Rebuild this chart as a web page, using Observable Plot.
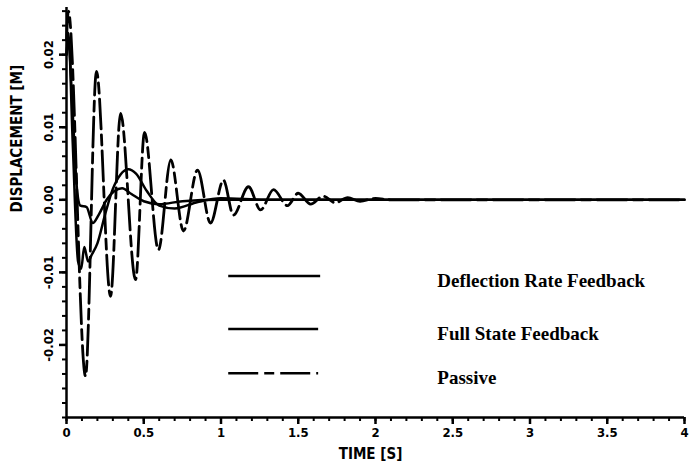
<!DOCTYPE html>
<html><head><meta charset="utf-8">
<script src="https://cdn.jsdelivr.net/npm/d3@7"></script>
<script src="https://cdn.jsdelivr.net/npm/@observablehq/plot@0.6"></script>
<style>body{margin:0;background:#fff}</style>
</head><body><div id="chart"></div>
<script>
// ---- data ----
const seriesNames = ["Deflection Rate Feedback", "Full State Feedback", "Passive"];

const drfTime = [0, 0.012, 0.04, 0.075, 0.095, 0.115, 0.14, 0.165, 0.2, 0.25, 0.3, 0.35, 0.4, 0.45, 0.52, 0.6, 0.7, 0.85, 1.0, 1.3, 4];
const drfDisp = [0.02, 0.023, 0.008, -0.0085, -0.0095, -0.0065, -0.0085, -0.0075, -0.006, -0.002, 0.0015, 0.0035, 0.0042, 0.0036, 0.0012, -0.0008, -0.0012, -0.0003, 0.0002, 0, 0];

const fsfTime = [0, 0.012, 0.04, 0.07, 0.09, 0.13, 0.17, 0.21, 0.26, 0.31, 0.36, 0.42, 0.5, 0.6, 0.75, 1.0, 4];
const fsfDisp = [0.02, 0.022, 0.012, 0.001, -0.0008, -0.001, -0.0032, -0.002, 0.0, 0.0012, 0.0016, 0.0008, -0.0002, -0.0006, -0.0002, 0, 0];

const passiveTime = [0, 0.012, 0.123, 0.194, 0.285, 0.35, 0.447, 0.505, 0.595, 0.675, 0.757, 0.848, 0.932, 1.016, 1.08, 1.178, 1.256, 1.34, 1.43, 1.5, 1.58, 1.66, 1.74, 1.82, 1.9, 2.0, 2.1, 4];
const passiveDisp = [0.022, 0.026, -0.0243, 0.0177, -0.0133, 0.0119, -0.011, 0.0093, -0.0069, 0.0055, -0.0043, 0.0041, -0.0032, 0.0027, -0.0021, 0.0018, -0.0014, 0.0014, -0.0008, 0.0009, -0.0006, 0.0005, -0.0004, 0.0003, -0.0002, 0.0002, 0, 0];

const xTicks = [0, 0.5, 1, 1.5, 2, 2.5, 3, 3.5, 4];
const xTickLabels = ["0", "0.5", "1", "1.5", "2", "2.5", "3", "3.5", "4"];
const yTicks = [-0.02, -0.01, 0, 0.01, 0.02];
const yTickLabels = ["-0.02", "-0.01", "0.00", "0.01", "0.02"];
const xLabel = "TIME [S]";
const yLabel = "DISPLACEMENT [M]";

// ---- layout ----
const X_DOMAIN = [0, 4], Y_DOMAIN = [-0.03, 0.0265];
const sans = "'DejaVu Sans Condensed', 'DejaVu Sans', sans-serif";
const serif = "'Liberation Serif', 'Times New Roman', serif";
const passiveDash = "30,6,10,6";
const legendX1 = [1.05, 1.05, 1.05], legendX2 = [1.645, 1.632, 1.632];
const legendY = [-0.0105, -0.0178, -0.0239];
const legendTextX = 2.40;
const legendDash = [null, null, passiveDash];

const toRows = (t, v) => t.map((d, i) => ({t: d, v: v[i]}));
const drf = toRows(drfTime, drfDisp);
const fsf = toRows(fsfTime, fsfDisp);
const pas = toRows(passiveTime, passiveDisp);

const minorX = d3.range(0, 4.0001, 0.1);
const minorY = d3.range(-0.03, 0.0261, 0.002);

const legendRows = seriesNames.map((name, i) => ({name, x1: legendX1[i], x2: legendX2[i], y: legendY[i], dash: legendDash[i]}));

const chart = Plot.plot({
  width: 690, height: 472,
  marginLeft: 66, marginRight: 6, marginTop: 7, marginBottom: 55,
  x: {domain: X_DOMAIN, axis: null},
  y: {domain: Y_DOMAIN, axis: null},
  style: {background: "#fff", color: "#000"},
  marks: [
    // minor ticks
    Plot.axisX({ticks: minorX, tickSize: 4, tickFormat: () => "", strokeWidth: 2, label: null}),
    Plot.axisY({ticks: minorY, tickSize: 4, tickFormat: () => "", strokeWidth: 2, label: null}),
    // major ticks + labels
    Plot.axisX({ticks: xTicks, tickSize: 7, tickPadding: 3, strokeWidth: 2.5,
      tickFormat: d => xTickLabels[xTicks.indexOf(d)], fontSize: 13, fontWeight: "bold", fontFamily: sans, label: null}),
    Plot.axisY({ticks: yTicks, tickSize: 7, tickPadding: 7, tickRotate: -90, strokeWidth: 2.5,
      tickFormat: d => yTickLabels[yTicks.indexOf(d)], fontSize: 13, fontWeight: "bold", fontFamily: sans, label: null}),
    // axis lines
    Plot.ruleX([X_DOMAIN[0]], {strokeWidth: 2.5}),
    Plot.ruleY([Y_DOMAIN[0]], {strokeWidth: 2.5}),
    // axis titles
    Plot.text([xLabel], {frameAnchor: "bottom", dy: 41, dx: -5, text: d => d, fontSize: 15, fontWeight: "bold", fontFamily: sans}),
    Plot.text([yLabel], {frameAnchor: "left", dx: -49, rotate: -90, text: d => d, fontSize: 15, fontWeight: "bold", fontFamily: sans}),
    // series
    Plot.line(pas, {x: "t", y: "v", curve: "monotone-x", stroke: "#000", strokeWidth: 2.8, strokeDasharray: passiveDash}),
    Plot.line(fsf, {x: "t", y: "v", curve: "monotone-x", stroke: "#000", strokeWidth: 2.5}),
    Plot.line(drf, {x: "t", y: "v", curve: "monotone-x", stroke: "#000", strokeWidth: 2.5}),
    // legend
    Plot.ruleY(legendRows.filter(d => !d.dash), {y: "y", x1: "x1", x2: "x2", stroke: "#000", strokeWidth: 2.4}),
    Plot.ruleY(legendRows.filter(d => d.dash), {y: "y", x1: "x1", x2: "x2", stroke: "#000", strokeWidth: 2.4, strokeDasharray: passiveDash}),
    Plot.text(legendRows, {x: () => legendTextX, y: "y", text: "name", textAnchor: "start", dy: 5, fontSize: 19, fontWeight: "bold", fontFamily: serif})
  ]
});
document.getElementById("chart").appendChild(chart);
</script>
</body></html>
